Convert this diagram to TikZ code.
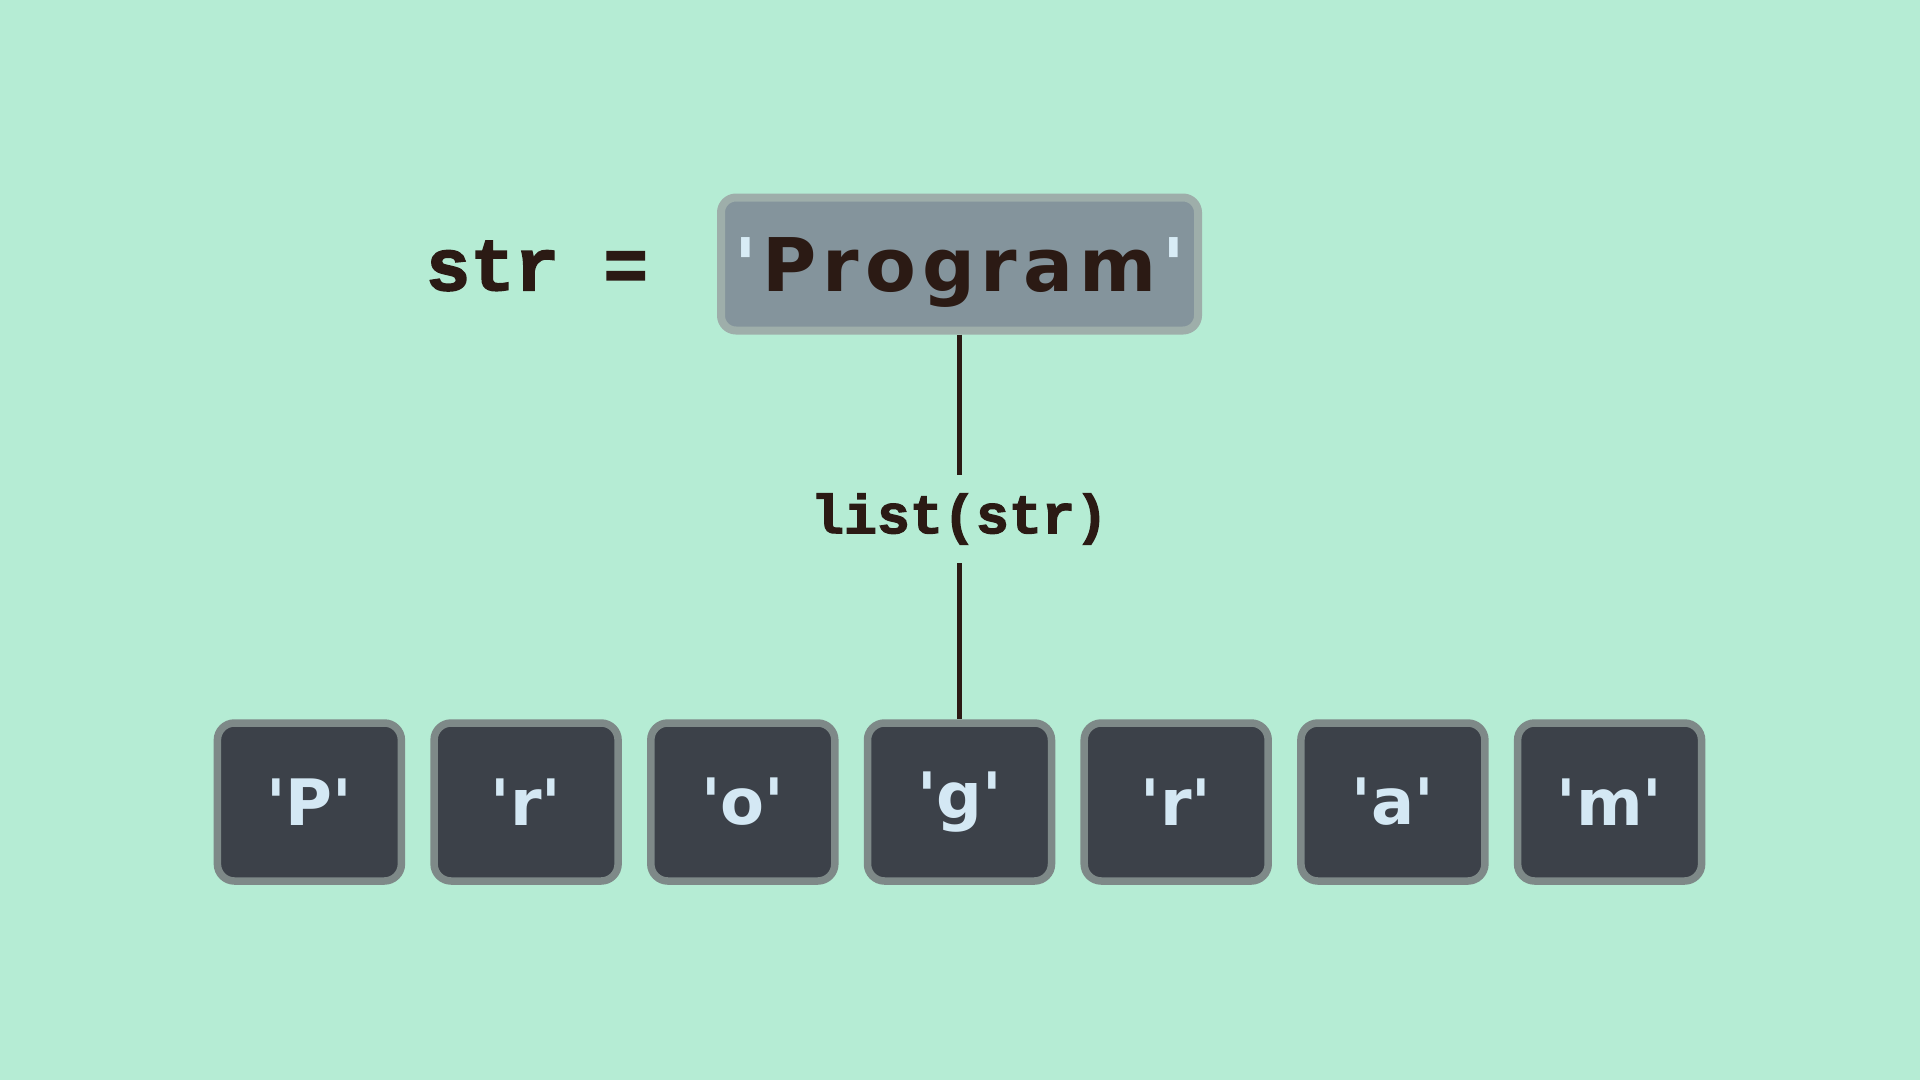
\documentclass[tikz,border=0pt]{standalone}
\usepackage{fontspec}
\setmainfont{DejaVu Sans}
\newfontfamily\codefont[BoldFeatures={FakeBold=2.2}]{Liberation Mono}
\newfontfamily\progfont[LetterSpace=8]{DejaVu Sans}
\newfontfamily\charfont{DejaVu Sans}
\definecolor{bgc}{HTML}{B5ECD4}
\definecolor{progfill}{HTML}{84949C}
\definecolor{progline}{HTML}{9EAEAA}
\definecolor{ink}{HTML}{2B1A14}
\definecolor{quotec}{HTML}{D8ECF6}
\definecolor{boxfill}{HTML}{3C4149}
\definecolor{boxline}{HTML}{7E8988}
\definecolor{letterc}{HTML}{D4E8F4}
\tikzset{
  progbox/.style={draw=progline, fill=progfill, line width=8pt, rounded corners=15pt,
    minimum width=477pt, minimum height=133pt, inner sep=0pt, text=ink,
    text height=60pt, text depth=6pt,
    font=\progfont\bfseries\fontsize{74}{80}\selectfont},
  charbox/.style={draw=boxline, fill=boxfill, line width=7.5pt, rounded corners=17pt,
    minimum width=184pt, minimum height=158pt, inner sep=0pt, text=letterc,
    font=\charfont\bfseries\fontsize{64}{70}\selectfont},
  codetext/.style={text=ink, inner sep=0pt, font=\codefont\bfseries\fontsize{74}{80}\selectfont},
  labeltext/.style={text=ink, inner sep=0pt, minimum height=88pt, font=\codefont\bfseries\fontsize{55}{60}\selectfont},
  conn/.style={draw=ink, line width=4.2pt}
}
\begin{document}
\begin{tikzpicture}[x=1pt,y=-1pt]
\fill[bgc] (0,0) rectangle (1920,1080);
\useasboundingbox (0,0) rectangle (1920,1080);
\node[codetext] (lhs) at (537,266) {str =};
\node[progbox] (prog) at (959.5,264) {\textcolor{quotec}{\textquotesingle}\hspace{6pt}Program\hspace{6pt}\textcolor{quotec}{\textquotesingle}};
\node[labeltext] (lab) at (959.5,519) {list(str)};
\foreach \n/\c/\k in {c0/P/-3, c1/r/-2, c2/o/-1, c3/g/0, c4/r/1, c5/a/2, c6/m/3}{
  \node[charbox] (\n) at ({959.5+\k*216.7},802) {\textquotesingle\c\textquotesingle};
}
\draw[conn] (prog.south) -- (lab.north);
\draw[conn] (lab.south) -- (c3.north);
\end{tikzpicture}
\end{document}
